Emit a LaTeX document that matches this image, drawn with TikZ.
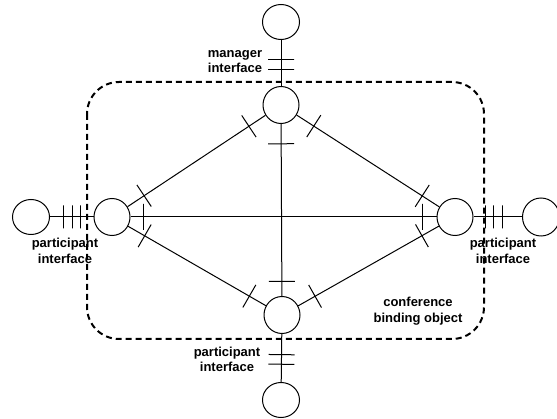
\documentclass[tikz,border=0pt]{standalone}
\usepackage{fontspec}
\setmainfont{Liberation Sans}
\usetikzlibrary{shapes.geometric}
\begin{document}
\begin{tikzpicture}[x=1pt,y=-1pt,
  outerell/.style={draw, ellipse, inner sep=0pt, minimum width=37pt, minimum height=35pt, line width=1pt},
  innerell/.style={draw, ellipse, inner sep=0pt, minimum width=36pt, minimum height=37pt, line width=1pt},
  conn/.style={line width=1pt},
  tk/.style={sloped, draw, inner sep=0pt, minimum width=0pt, minimum height=26pt, line width=1pt},
  tkshort/.style={tk, minimum height=23pt},
  lbl/.style={font=\fontsize{13}{15.5}\selectfont\bfseries, align=center, inner sep=0pt},
  boxline/.style={dashed, dash pattern=on 6pt off 4pt, line width=2pt, rounded corners=32pt}]
\useasboundingbox (0,0) rectangle (557,419);
% dashed binding object box
\draw[boxline] (87,82) rectangle (484,339);
% ellipses
\node[outerell] (to) at (281,22) {};
\node[innerell] (ti) at (281,105) {};
\node[innerell] (li) at (112,217) {};
\node[outerell] (lo) at (31,217) {};
\node[innerell] (ri) at (455,217) {};
\node[outerell, minimum height=38pt] (ro) at (541,217) {};
\node[innerell] (bi) at (282,315) {};
\node[outerell] (bo) at (281,400) {};
% interfaces
\draw[conn] (to) -- node[tk, pos=0.43] {} node[tk, pos=0.64] {} (ti);
\draw[conn] (lo) -- node[tkshort, pos=0.31] {} node[tkshort, pos=0.51] {} node[tkshort, pos=0.69] {} (li);
\draw[conn] (ri) -- node[tkshort, pos=0.24] {} node[tkshort, pos=0.42] {} node[tkshort, pos=0.6] {} (ro);
\draw[conn] (bi) -- node[tk, pos=0.43] {} node[tk, pos=0.63] {} (bo);
% internal connections
\draw[conn] (li) -- node[tk, pos=0.12] {} node[tk, pos=0.88] {} (ti);
\draw[conn] (ti) -- node[tk, pos=0.12] {} node[tk, pos=0.88] {} (ri);
\draw[conn] (li) -- node[tk, pos=0.12] {} node[tk, pos=0.88] {} (bi);
\draw[conn] (bi) -- node[tk, pos=0.12] {} node[tk, pos=0.88] {} (ri);
\draw[conn] (li) -- node[tk, pos=0.042] {} node[tk, pos=0.955] {} (ri);
\draw[conn] (ti) -- node[tk, pos=0.115] {} node[tk, pos=0.915] {} (bi);
% labels
\node[lbl] (lman) at (235,61.5) {manager\\interface};
\node[lbl] (lleft) at (65,251) {participant\\interface};
\node[lbl] (lright) at (503,251) {participant\\interface};
\node[lbl] (lbot) at (227,359.5) {participant\\interface};
\node[lbl] (lconf) at (418,311) {conference\\binding object};
\end{tikzpicture}
\end{document}
